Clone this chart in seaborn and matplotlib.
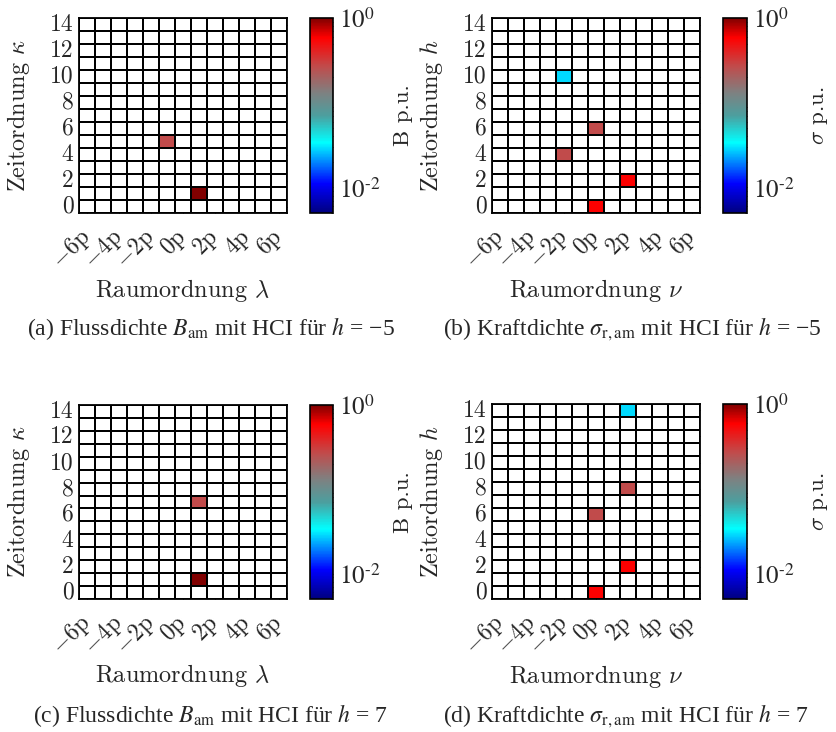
import numpy as np
import pandas as pd
import matplotlib
matplotlib.use("Agg")
import matplotlib.pyplot as plt
import seaborn as sns
from matplotlib.colors import LogNorm, LinearSegmentedColormap

# ---------------- data ----------------
space_orders = [-6, -5, -4, -3, -2, -1, 0, 1, 2, 3, 4, 5, 6]
time_orders = list(range(0, 15))
x_tick_labels = [r"$-6\mathrm{p}$", r"$-5\mathrm{p}$", r"$-4\mathrm{p}$", r"$-3\mathrm{p}$",
                 r"$-2\mathrm{p}$", r"$-1\mathrm{p}$", r"$0\mathrm{p}$", r"$1\mathrm{p}$",
                 r"$2\mathrm{p}$", r"$3\mathrm{p}$", r"$4\mathrm{p}$", r"$5\mathrm{p}$",
                 r"$6\mathrm{p}$"]
y_tick_labels = [str(v) for v in time_orders]

# (a) flux density, h = -5 : (lambda, kappa, value)
a_lambda = [-1, 1]
a_kappa = [5, 1]
a_value = [0.27, 1.0]
# (b) force density, h = -5 : (nu, h, value)
b_nu = [-2, 0, -2, 2, 0]
b_h = [10, 6, 4, 2, 0]
b_value = [0.029, 0.27, 0.27, 0.59, 0.59]
# (c) flux density, h = 7
c_lambda = [1, 1]
c_kappa = [7, 1]
c_value = [0.27, 1.0]
# (d) force density, h = 7
d_nu = [2, 2, 0, 2, 0]
d_h = [14, 8, 6, 2, 0]
d_value = [0.029, 0.27, 0.27, 0.59, 0.59]

vmin, vmax = 0.005, 1.0


def make_frame(xs, ys, vals):
    df = pd.DataFrame(np.nan, index=time_orders, columns=space_orders)
    for x, y, v in zip(xs, ys, vals):
        df.loc[y, x] = v
    return df


# ---------------- style ----------------
sns.set_style("white")
plt.rcParams["mathtext.fontset"] = "cm"
plt.rcParams["axes.unicode_minus"] = True
plt.rcParams["font.family"] = ["cmr10", "DejaVu Serif"]

cmap = LinearSegmentedColormap.from_list("bcgr", [
    (0.00, (0.0, 0.0, 0.5)),
    (0.15, (0.0, 0.0, 1.0)),
    (0.36, (0.0, 1.0, 1.0)),
    (0.50, (0.30, 0.62, 0.62)),
    (0.62, (0.50, 0.50, 0.50)),
    (0.75, (0.75, 0.30, 0.30)),
    (0.90, (1.0, 0.0, 0.0)),
    (1.00, (0.5, 0.0, 0.0)),
])
cmap.set_bad("white")

W, H = 837, 732
fig = plt.figure(figsize=(W / 100, H / 100), dpi=100)


def px_axes(l, t, r, b):
    return fig.add_axes([l / W, (H - b) / H, (r - l) / W, (b - t) / H])


panels = [
    dict(ax=(79, 18, 287, 213), cax=(310, 18, 333, 213), data=(a_lambda, a_kappa, a_value),
         xlab=r"Raumordnung $\lambda$", ylab=r"Zeitordnung $\kappa$", clab="B p.u."),
    dict(ax=(492, 18, 700, 213), cax=(723, 18, 747, 213), data=(b_nu, b_h, b_value),
         xlab=r"Raumordnung $\nu$", ylab=r"Zeitordnung $h$", clab=r"$\sigma$ p.u."),
    dict(ax=(79, 405, 287, 599), cax=(310, 405, 333, 599), data=(c_lambda, c_kappa, c_value),
         xlab=r"Raumordnung $\lambda$", ylab=r"Zeitordnung $\kappa$", clab="B p.u."),
    dict(ax=(492, 404, 700, 599), cax=(723, 404, 747, 599), data=(d_nu, d_h, d_value),
         xlab=r"Raumordnung $\nu$", ylab=r"Zeitordnung $h$", clab=r"$\sigma$ p.u."),
]

FS = 17
for p in panels:
    ax = px_axes(*p["ax"])
    cax = px_axes(*p["cax"])
    df = make_frame(*p["data"])
    df.columns = x_tick_labels
    df.index = y_tick_labels
    sns.heatmap(df, ax=ax, cbar_ax=cax, cmap=cmap, norm=LogNorm(vmin=vmin, vmax=vmax),
                linewidths=1.2, linecolor="black", xticklabels=2, yticklabels=2)
    ax.invert_yaxis()
    for s in ax.spines.values():
        s.set_visible(True)
        s.set_linewidth(1.3)
        s.set_color("black")
    ax.tick_params(axis="both", which="major", direction="in", length=3, width=0.8,
                   top=True, right=True, bottom=True, left=True, color="black",
                   labelsize=FS, pad=4)
    for t in ax.get_xticklabels():
        t.set_rotation(45)
        t.set_ha("right")
        t.set_va("center")
        t.set_rotation_mode("anchor")
    ax.tick_params(axis="x", pad=15)
    for t in ax.get_yticklabels():
        t.set_rotation(0)
    ax.set_xlabel(p["xlab"], fontsize=FS + 0.5)
    ax.xaxis.set_label_coords(0.5, -0.395)
    ax.xaxis.label.set_va("center")
    ax.set_ylabel(p["ylab"], fontsize=FS + 0.5)
    ax.yaxis.set_label_coords(-0.29, 0.5)
    ax.yaxis.label.set_va("center")

    cb = ax.collections[0].colorbar
    cb.outline.set_linewidth(1.2)
    cb.outline.set_edgecolor("black")
    cb.set_ticks([1e-2, 1e0])
    cb.set_ticklabels([r"$10^{\text{-}2}$", r"$10^{0}$"])
    for t in cax.get_yticklabels():
        t.set_fontfamily("Liberation Serif")
        t.set_math_fontfamily("stix")
    cax.tick_params(which="both", direction="in", length=2.5, width=0.6, labelsize=FS + 1,
                    right=True, left=False, pad=4)
    cax.tick_params(which="minor", length=1.5)
    cax.set_ylabel(p["clab"], fontsize=FS - 0.5, rotation=90)
    cax.yaxis.set_label_coords(4.05, 0.5)
    cax.yaxis.label.set_va("center")

captions = [
    (211, 329, r"(a) Flussdichte $B_{\mathrm{am}}$ mit HCI für $h$ = −5"),
    (632, 329, r"(b) Kraftdichte $\sigma_{\mathrm{r,am}}$ mit HCI für $h$ = −5"),
    (210, 716, r"(c) Flussdichte $B_{\mathrm{am}}$ mit HCI für $h$ = 7"),
    (626, 716, r"(d) Kraftdichte $\sigma_{\mathrm{r,am}}$ mit HCI für $h$ = 7"),
]
for x, y, s in captions:
    fig.text(x / W, 1 - y / H, s, ha="center", va="center", fontsize=17,
             fontfamily="Liberation Serif", math_fontfamily="stix")

fig.savefig("out.png", dpi=100)
